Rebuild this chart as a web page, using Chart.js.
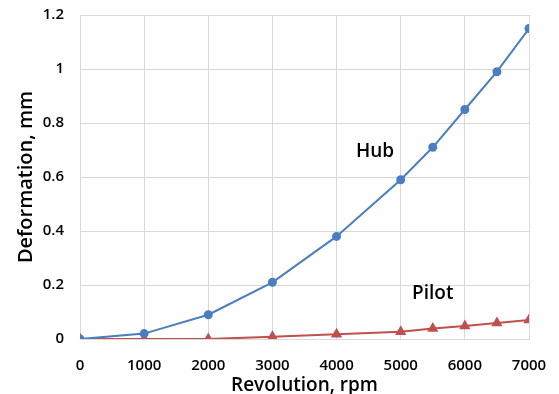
<!DOCTYPE html>
<html>
<head>
<meta charset="utf-8">
<script src="https://cdn.jsdelivr.net/npm/chart.js@4.4.0/dist/chart.umd.min.js"></script>
<style>
  html, body { margin: 0; padding: 0; background: #fff; }
  #wrap { width: 559px; height: 394px; position: relative; }
</style>
</head>
<body>
<div id="wrap"><canvas id="chart"></canvas></div>
<script>
// values
const rpm = [0, 1000, 2000, 3000, 4000, 5000, 5500, 6000, 6500, 7000];
const hub = [0, 0.02, 0.09, 0.21, 0.38, 0.59, 0.71, 0.85, 0.99, 1.15];
const pilot = [0, 0, 0, 0.008, 0.018, 0.027, 0.039, 0.048, 0.059, 0.07];

const labels = [
  { text: 'Hub', x: 4600, y: 0.693 },
  { text: 'Pilot', x: 5500, y: 0.167 }
];

const FONT = '"Open Sans", Lato, sans-serif';

function pts(xs, ys) {
  return xs.map((x, i) => ({ x: x, y: ys[i] }));
}

// draws the series names next to the lines
const textLabels = {
  id: 'textLabels',
  afterDatasetsDraw(chart) {
    const ctx = chart.ctx;
    const xs = chart.scales.x, ys = chart.scales.y;
    ctx.save();
    ctx.font = '600 19px ' + FONT;
    ctx.fillStyle = '#000';
    ctx.textAlign = 'center';
    ctx.textBaseline = 'middle';
    labels.forEach(l => {
      ctx.fillText(l.text, xs.getPixelForValue(l.x), ys.getPixelForValue(l.y));
    });
    ctx.restore();
  }
};

new Chart(document.getElementById('chart'), {
  type: 'line',
  data: {
    datasets: [
      {
        label: 'Hub',
        data: pts(rpm, hub),
        borderColor: '#4A7EC1',
        backgroundColor: '#4A7EC1',
        borderWidth: 2,
        pointStyle: 'circle',
        pointRadius: 3.5,
        tension: 0
      },
      {
        label: 'Pilot',
        data: pts(rpm, pilot),
        borderColor: '#C0504D',
        backgroundColor: '#C0504D',
        borderWidth: 2,
        pointStyle: 'triangle',
        pointRadius: 4.5,
        tension: 0
      }
    ]
  },
  options: {
    responsive: true,
    maintainAspectRatio: false,
    animation: false,
    layout: { padding: { top: 15, right: 30, left: 0, bottom: 0 } },
    plugins: {
      legend: { display: false },
      tooltip: { enabled: false }
    },
    scales: {
      x: {
        type: 'linear',
        min: 0,
        max: 7000,
        ticks: {
          stepSize: 1000, color: '#000', padding: 18,
          font: { family: FONT, size: 15, weight: '600' },
          callback: v => String(v)
        },
        grid: { color: '#D9D9D9', drawTicks: false },
        border: { color: '#D9D9D9' },
        title: { display: true, text: 'Revolution, rpm', color: '#000', font: { family: FONT, size: 19, weight: '600' }, padding: { top: 0, bottom: -3 } },
        afterFit(scale) {
          scale.height = 55;
          scale.paddingLeft = 0;
          scale.paddingRight = 0;
        }
      },
      y: {
        min: 0,
        max: 1.2,
        ticks: {
          stepSize: 0.2, color: '#000', padding: 16,
          font: { family: FONT, size: 15, weight: '600' },
          callback: v => String(Math.round(v * 10) / 10)
        },
        grid: { color: '#D9D9D9', drawTicks: false },
        border: { color: '#D9D9D9' },
        title: { display: true, text: 'Deformation, mm', color: '#000', font: { family: FONT, size: 20, weight: '600' }, padding: { top: 14, bottom: 0 } },
        afterFit(scale) {
          scale.width = 80;
          scale.paddingTop = 0;
          scale.paddingBottom = 0;
        }
      }
    }
  },
  plugins: [textLabels]
});
</script>
</body>
</html>
